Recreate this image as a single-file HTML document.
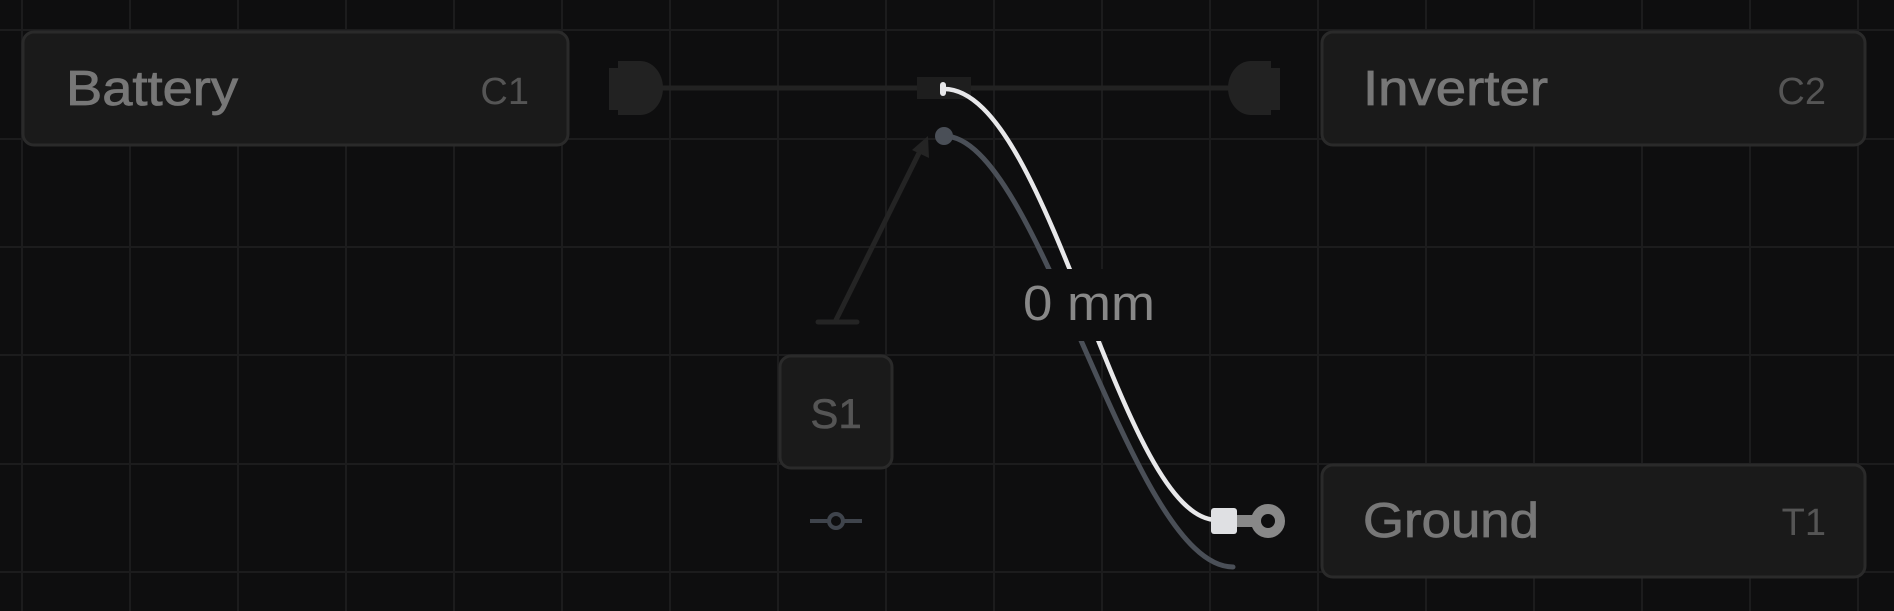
<!DOCTYPE html>
<html><head><meta charset="utf-8"><style>
html,body{margin:0;padding:0;background:#0e0e0f;width:1894px;height:611px;overflow:hidden}
svg{display:block}
text{font-family:"Liberation Sans",sans-serif}
</style></head><body>
<svg width="1894" height="611" viewBox="0 0 1894 611">
<rect width="1894" height="611" fill="#0e0e0f"/>
<g id="grid" stroke="#1c1c1d" stroke-width="2"></g>

<g>
<rect x="23" y="32" width="545" height="113" rx="11" fill="#1a1a1a" stroke="#2a2a2a" stroke-width="3"/>
<text x="66" y="105" font-size="49" fill="#777" textLength="172" lengthAdjust="spacingAndGlyphs" stroke="#777" stroke-width="0.8">Battery</text>
<text x="529" y="104" font-size="38" fill="#555" text-anchor="end">C1</text>
</g>
<g>
<rect x="1322" y="32" width="543" height="113" rx="11" fill="#1a1a1a" stroke="#2a2a2a" stroke-width="3"/>
<text x="1363" y="105" font-size="49" fill="#777" textLength="185" lengthAdjust="spacingAndGlyphs" stroke="#777" stroke-width="0.8">Inverter</text>
<text x="1826" y="104" font-size="38" fill="#555" text-anchor="end">C2</text>
</g>
<g>
<rect x="1322" y="465" width="543" height="112" rx="11" fill="#1a1a1a" stroke="#2a2a2a" stroke-width="3"/>
<text x="1363" y="537" font-size="49" fill="#777" textLength="176" lengthAdjust="spacingAndGlyphs" stroke="#777" stroke-width="0.8">Ground</text>
<text x="1826" y="535" font-size="38" fill="#555" text-anchor="end">T1</text>
</g>

<line x1="660" y1="88" x2="1230" y2="88" stroke="#222" stroke-width="5"/>
<g fill="#222">
<rect x="609" y="68" width="12" height="42"/>
<path d="M618 61 H640 A23 27 0 0 1 640 115 H618 Z"/>
</g>
<g fill="#222">
<rect x="1268" y="68" width="12" height="42"/>
<path d="M1271 61 H1251 A23 27 0 0 0 1251 115 H1271 Z"/>
</g>
<rect x="917" y="77" width="54" height="22" fill="#1e1e1e"/>

<g stroke="#242424" stroke-width="5" fill="none" stroke-linecap="round">
<line x1="836" y1="320" x2="923" y2="145"/>
<line x1="818" y1="322" x2="857" y2="322"/>
</g>
<path d="M928 136 L929 158 L912 150 Z" fill="#242424"/>
<g>
<rect x="780" y="356" width="112" height="112" rx="11" fill="#1a1a1a" stroke="#2a2a2a" stroke-width="3"/>
<text x="836" y="428" font-size="42" fill="#555" text-anchor="middle" stroke="#555" stroke-width="0.6">S1</text>
</g>
<g stroke="#3f444c" stroke-width="4" fill="none">
<line x1="810" y1="521" x2="829" y2="521"/><line x1="843" y1="521" x2="862" y2="521"/>
<circle cx="836" cy="521" r="7"/>
</g>

<path d="M944 136 C1040 136 1130 567 1233 567" stroke="#4a4f57" stroke-width="5" fill="none" stroke-linecap="round"/>
<circle cx="944" cy="136" r="9" fill="#4a4f57"/>
<path d="M944 89 C1050 89 1120 520 1217 520" stroke="#e8e8ea" stroke-width="4.5" fill="none"/>
<rect x="940" y="82" width="6" height="14" rx="3" fill="#e8e8ea"/>

<rect x="1018" y="269" width="142" height="72" fill="#0e0e0f"/>
<text x="1089" y="320" font-size="49" fill="#888" text-anchor="middle" textLength="132" lengthAdjust="spacingAndGlyphs">0 mm</text>

<g>
<rect x="1236" y="515" width="20" height="12" fill="#888"/>
<circle cx="1268" cy="521" r="12" fill="none" stroke="#888" stroke-width="10"/>
<rect x="1211" y="508" width="26" height="26" rx="3" fill="#dfe0e3"/>
</g>
</svg>
<script>
const gridXs=[];for(let x=22;x<1894;x+=108)gridXs.push(x);
const gridYs=[30,139,247,355,464,572];
const g=document.getElementById('grid');
const ns='http://www.w3.org/2000/svg';
gridXs.forEach(x=>{const l=document.createElementNS(ns,'line');l.setAttribute('x1',x);l.setAttribute('x2',x);l.setAttribute('y1',0);l.setAttribute('y2',611);


g.appendChild(l);});
gridYs.forEach(y=>{const l=document.createElementNS(ns,'line');l.setAttribute('y1',y);l.setAttribute('y2',y);l.setAttribute('x1',0);l.setAttribute('x2',1894);


g.appendChild(l);});
</script>
</body></html>
